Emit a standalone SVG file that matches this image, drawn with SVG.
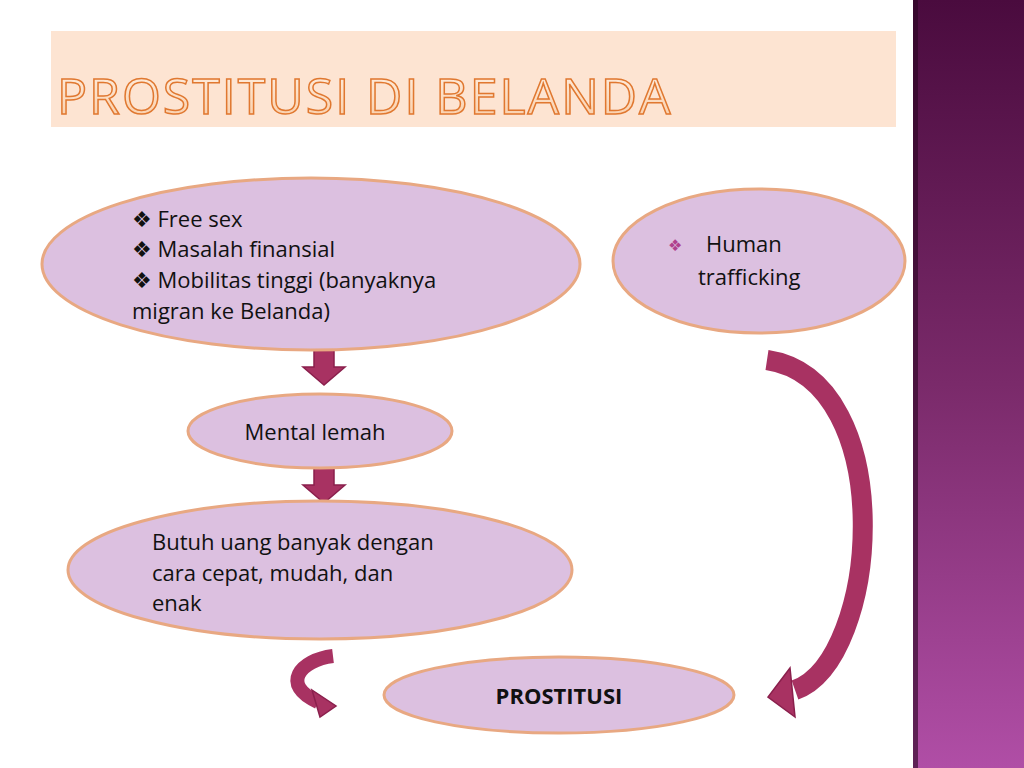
<svg xmlns="http://www.w3.org/2000/svg" width="1024" height="768" viewBox="0 0 1024 768">
<defs>
<linearGradient id="side" x1="0" y1="0" x2="0" y2="1"><stop offset="0" stop-color="#4a0b3e"/><stop offset="0.5" stop-color="#7a2a6a"/><stop offset="1" stop-color="#b04ea6"/></linearGradient>
<linearGradient id="tg" x1="0" y1="0" x2="0" y2="1"><stop offset="0" stop-color="#fff4ea"/><stop offset="1" stop-color="#f9c9a0"/></linearGradient>
<style>
.n{fill:#dcc0e0;stroke:#e8a882;stroke-width:3}
.t{font-family:"Open Sans","DejaVu Sans",sans-serif;font-size:22px;fill:#111}
.a{fill:#a83262;stroke:#8a1f4c;stroke-width:1.5}
.c{fill:none;stroke:#a83262;stroke-linecap:butt}
</style>
</defs>
<rect width="1024" height="768" fill="#fff"/>
<rect x="913" y="0" width="111" height="768" fill="url(#side)"/>
<rect x="913" y="0" width="5" height="768" fill="#2a0522" opacity="0.6"/>
<rect x="51" y="31" width="845" height="96" fill="#fde4d2"/>
<text x="57" y="114" font-family="'Open Sans','DejaVu Sans',sans-serif" font-size="50" letter-spacing="2" fill="url(#tg)" stroke="#e07830" stroke-width="1.5">PROSTITUSI DI BELANDA</text>
<g id="connectors">
<polygon class="a" points="314,348 334,348 334,367 345,367 324,385 303,367 314,367"/>
<polygon class="a" points="314,467 334,467 334,485 345,485 324,503 303,485 314,485"/>
<path class="c" stroke-width="14" d="M333,656 C300,660 280,685 318,702"/>
<polygon class="a" points="312,690 336,706 320,717"/>
<path class="c" stroke-width="20" d="M767,360 C900,380 880,660 795,690"/>
<polygon class="a" points="790,668 768,697 795,717"/>
</g>
<g id="n1"><ellipse class="n" cx="311" cy="264" rx="269" ry="86"/>
<text class="t"><tspan x="132" y="227">❖ Free sex</tspan><tspan x="132" y="257">❖ Masalah finansial</tspan><tspan x="132" y="288">❖ Mobilitas tinggi (banyaknya</tspan><tspan x="132" y="319">migran ke Belanda)</tspan></text></g>
<g id="n2"><ellipse class="n" cx="759" cy="261" rx="146" ry="72"/>
<text x="668" y="251" font-family="'DejaVu Sans',sans-serif" font-size="16" fill="#b0408e">❖</text>
<text class="t" font-size="25"><tspan x="706" y="252">Human</tspan><tspan x="698" y="285">trafficking</tspan></text></g>
<g id="n3"><ellipse class="n" cx="320" cy="431" rx="132" ry="37"/>
<text class="t" x="315" y="440" text-anchor="middle">Mental lemah</text></g>
<g id="n4"><ellipse class="n" cx="320" cy="570" rx="252" ry="69"/>
<text class="t"><tspan x="152" y="550">Butuh uang banyak dengan</tspan><tspan x="152" y="581">cara cepat, mudah, dan</tspan><tspan x="152" y="611">enak</tspan></text></g>
<g id="n5"><ellipse class="n" cx="559" cy="695" rx="175" ry="38"/>
<text class="t" x="559" y="704" text-anchor="middle" font-weight="bold">PROSTITUSI</text></g>
</svg>
